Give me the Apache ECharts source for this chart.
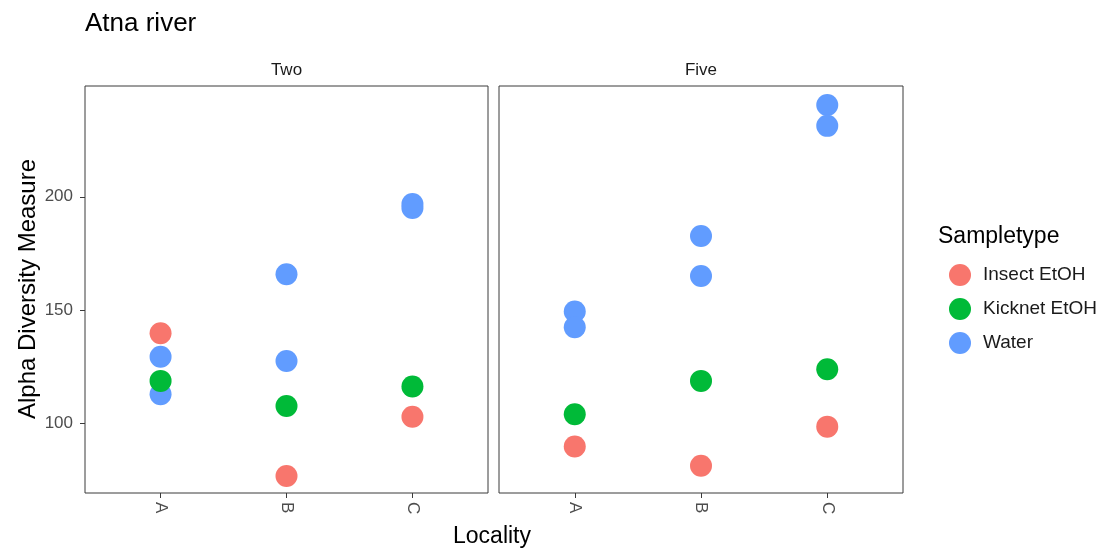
<!DOCTYPE html>
<html>
<head>
<meta charset="utf-8">
<script src="https://cdn.jsdelivr.net/npm/echarts@6/dist/echarts.min.js"></script>
<style>
html,body{margin:0;padding:0;background:#fff;}
#main{width:1106px;height:551px;}
</style>
</head>
<body>
<div id="main"></div>
<script>
// ---- data ----
const localities = ['A', 'B', 'C'];
const panels = ['Two', 'Five'];
const sampleTypes = ['Insect EtOH', 'Kicknet EtOH', 'Water'];
const yTicks = [100, 150, 200];

const insectTwo = [139.7, 76.7, 102.9];
const kicknetTwo = [118.7, 107.6, 116.2];
const waterTwo = [[129.4, 112.8], [165.8, 127.5], [196.8, 195.0]];

const insectFive = [89.7, 81.2, 98.5];
const kicknetFive = [104.0, 118.7, 123.8];
const waterFive = [[149.3, 142.4], [182.7, 165.0], [240.5, 231.3]];

// ---- build ----
const colors = {'Insect EtOH': '#F8766D', 'Kicknet EtOH': '#00BA38', 'Water': '#619CFF'};
const FONT = '"Liberation Sans", Arial, sans-serif';

function single(arr) { return arr.map((v, i) => [i + 1, v]); }
function multi(arr) {
  const out = [];
  arr.forEach((vals, i) => vals.forEach(v => out.push([i + 1, v])));
  return out;
}

const panelData = [
  {water: multi(waterTwo), insect: single(insectTwo), kicknet: single(kicknetTwo)},
  {water: multi(waterFive), insect: single(insectFive), kicknet: single(kicknetFive)}
];

const series = [];
panelData.forEach((p, gi) => {
  [['Water', p.water], ['Insect EtOH', p.insect], ['Kicknet EtOH', p.kicknet]].forEach(([name, data]) => {
    series.push({
      type: 'scatter', name: name, xAxisIndex: gi, yAxisIndex: gi,
      data: data, symbolSize: 22,
      itemStyle: {color: colors[name], opacity: 1},
      emphasis: {disabled: true}
    });
  });
});

const gridTop = 86, gridH = 407;
const grids = [
  {left: 85, top: gridTop, width: 403, height: gridH},
  {left: 499, top: gridTop, width: 404, height: gridH}
].map(g => Object.assign(g, {show: true, borderColor: '#3a3a3a', borderWidth: 1, backgroundColor: 'transparent', containLabel: false}));

const xAxes = grids.map((g, i) => ({
  type: 'value', gridIndex: i, min: 0.4, max: 3.6,
  axisLine: {show: false},
  splitLine: {show: false},
  axisTick: {show: true, customValues: [1, 2, 3], length: 5, lineStyle: {color: '#3a3a3a'}},
  axisLabel: {
    show: true, customValues: [1, 2, 3], rotate: -90, margin: 9,
    formatter: v => localities[Math.round(v) - 1] || '',
    color: '#4d4d4d', fontSize: 17, fontFamily: FONT
  }
}));

const yAxes = grids.map((g, i) => ({
  type: 'value', gridIndex: i, min: 69.2, max: 248.9,
  axisLine: {show: false},
  splitLine: {show: false},
  axisTick: {show: i === 0, customValues: yTicks, length: 5, lineStyle: {color: '#3a3a3a'}},
  axisLabel: {
    show: i === 0, customValues: yTicks, margin: 12,
    color: '#4d4d4d', fontSize: 17, fontFamily: FONT
  }
}));

const chart = echarts.init(document.getElementById('main'), null, {renderer: 'canvas'});
chart.setOption({
  backgroundColor: '#fff',
  animation: false,
  grid: grids,
  xAxis: xAxes,
  yAxis: yAxes,
  legend: {
    data: sampleTypes,
    orient: 'vertical', left: 944, top: 259,
    icon: 'circle', itemWidth: 22, itemHeight: 22, itemGap: 12,
    textStyle: {fontSize: 19, color: '#1a1a1a', fontFamily: FONT, padding: [0, 0, 0, 7]},
    selectedMode: false
  },
  graphic: [
    {type: 'text', left: 85, top: 11, style: {text: 'Atna river', font: '26px ' + FONT, fill: '#000'}},
    {type: 'text', x: 286.5, y: 70, style: {text: panels[0], font: '17px ' + FONT, fill: '#1a1a1a', textAlign: 'center', textVerticalAlign: 'middle'}},
    {type: 'text', x: 701, y: 70, style: {text: panels[1], font: '17px ' + FONT, fill: '#1a1a1a', textAlign: 'center', textVerticalAlign: 'middle'}},
    {type: 'text', x: 28, y: 289, rotation: Math.PI / 2, style: {text: 'Alpha Diversity Measure', font: '24px ' + FONT, fill: '#000', textAlign: 'center', textVerticalAlign: 'middle'}},
    {type: 'text', x: 492, y: 537, style: {text: 'Locality', font: '23px ' + FONT, fill: '#000', textAlign: 'center', textVerticalAlign: 'middle'}},
    {type: 'text', x: 938, y: 237, style: {text: 'Sampletype', font: '23px ' + FONT, fill: '#000', textAlign: 'left', textVerticalAlign: 'middle'}}
  ],
  series: series
});
</script>
</body>
</html>
